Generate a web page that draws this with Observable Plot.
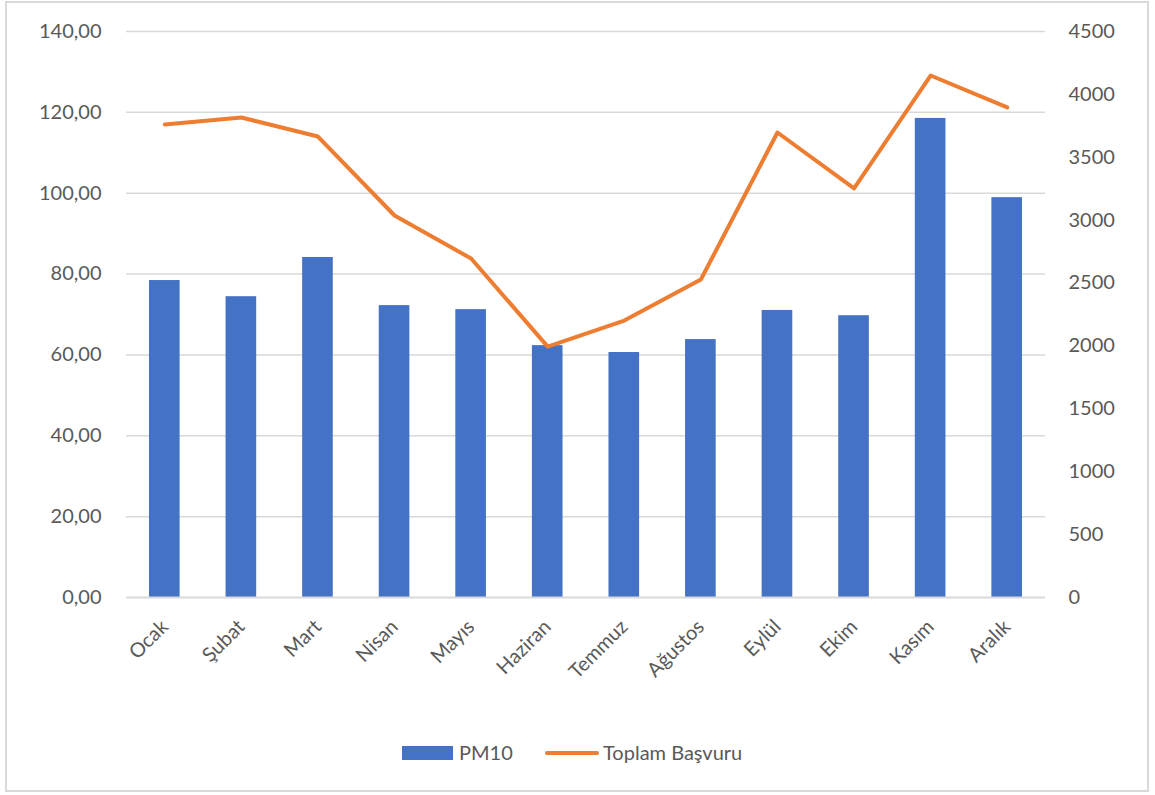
<!DOCTYPE html>
<html>
<head>
<meta charset="utf-8">
<script src="https://cdn.jsdelivr.net/npm/d3@7"></script>
<script src="https://cdn.jsdelivr.net/npm/@observablehq/plot@0.6"></script>
<style>
  html, body { margin: 0; padding: 0; background: #fff; }
  body { width: 1155px; height: 795px; position: relative; overflow: hidden; font-family: Lato, "Open Sans", sans-serif; }
  #frame { position: absolute; left: 5px; top: 1px; width: 1140px; height: 787px; border: 2px solid #d9d9d9; }
  #chart { position: absolute; left: 0; top: 0; }
  #legend { position: absolute; left: 0; top: 740px; width: 1155px; height: 24px; }
  .lg { position: absolute; font-size: 20px; color: #595959; line-height: 24px; }
</style>
</head>
<body>
<div id="frame"></div>
<div id="chart"></div>
<div id="legend">
  <div style="position:absolute;left:402px;top:6px;width:51px;height:14px;background:#4472C4"></div>
  <div class="lg" style="left:459px;top:0">PM10</div>
  <div style="position:absolute;left:545px;top:11px;width:54px;height:4px;border-radius:2px;background:#ED7D31"></div>
  <div class="lg" style="left:603px;top:0">Toplam Başvuru</div>
</div>
<script>
const months = ["Ocak","Şubat","Mart","Nisan","Mayıs","Haziran","Temmuz","Ağustos","Eylül","Ekim","Kasım","Aralık"];
const pm10 = [78.4, 74.4, 84.1, 72.2, 71.2, 62.3, 60.6, 63.8, 71.0, 69.7, 118.5, 98.9];
const basvuru = [3760, 3816, 3665, 3037, 2695, 1995, 2202, 2528, 3697, 3252, 4150, 3896];
const leftTicks = [0, 20, 40, 60, 80, 100, 120, 140];
const rightTicks = [0, 500, 1000, 1500, 2000, 2500, 3000, 3500, 4000, 4500];

const leftMax = 140, rightMax = 4500;
const toLeft = v => v * leftMax / rightMax;

const barData = months.map((m, i) => ({month: m, value: pm10[i]}));
const lineData = months.map((m, i) => ({month: m, value: toLeft(basvuru[i])}));
const fmt = v => v.toFixed(2).replace(".", ",");

const chart = Plot.plot({
  width: 1155,
  height: 720,
  marginLeft: 126,
  marginRight: 110,
  marginTop: 31,
  marginBottom: 123,
  style: {fontFamily: "Lato, 'Open Sans', sans-serif", fontSize: "20px", color: "#595959", background: "transparent"},
  x: {domain: months, paddingInner: 0.6, paddingOuter: 0.3, round: false, label: null},
  y: {domain: [0, leftMax], label: null},
  marks: [
    Plot.ruleY(leftTicks.filter(t => t > 0), {stroke: "#d9d9d9", strokeWidth: 1.5}),
    Plot.barY(barData, {x: "month", y: "value", fill: "#4472C4"}),
    Plot.ruleY([0], {stroke: "#d9d9d9", strokeWidth: 2}),
    Plot.line(lineData, {x: "month", y: "value", stroke: "#ED7D31", strokeWidth: 4, strokeLinecap: "round", strokeLinejoin: "round"}),
    Plot.axisY({ticks: leftTicks, tickFormat: fmt, tickSize: 0, tickPadding: 25, anchor: "left", label: null, fill: "#595959"}),
    Plot.axisY(rightTicks.map(toLeft), {tickFormat: (d, i) => String(rightTicks[i]), tickSize: 0, tickPadding: 23, anchor: "right", label: null, fill: "#595959", textAnchor: "start"}),
    Plot.axisX({tickSize: 0, tickPadding: 26, tickRotate: -45, label: null, fill: "#595959"})
  ]
});
document.getElementById("chart").appendChild(chart);
</script>
</body>
</html>
